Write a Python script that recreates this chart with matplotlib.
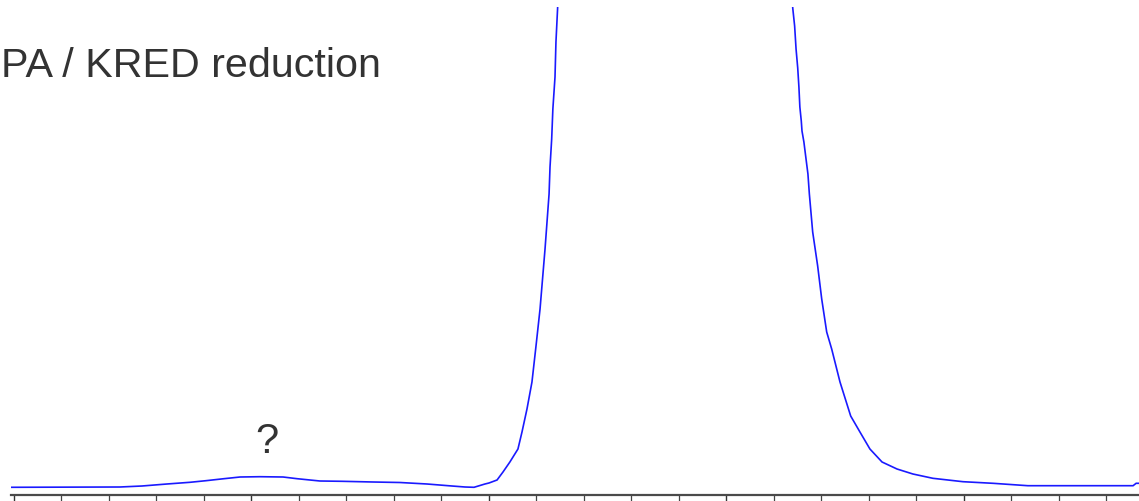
import matplotlib
matplotlib.use("Agg")
import matplotlib.pyplot as plt
from matplotlib.ticker import MultipleLocator

# Retention time (min) and detector signal (arbitrary units)
time_min = [-0.013, 0.446, 0.539, 0.644, 0.741, 0.808, 0.884, 0.952, 1.036, 1.133,
            1.192, 1.288, 1.381, 1.512, 1.625, 1.739, 1.844, 1.899, 1.937, 1.983,
            2.000, 2.034, 2.059, 2.088, 2.122, 2.139, 2.160, 2.181, 2.198, 2.215,
            2.236, 2.253, 2.257, 2.264, 2.269, 2.278, 2.282, 2.289, 2.299, 2.362,
            2.467, 2.783, 3.099, 3.204, 3.259, 3.267, 3.279, 3.287, 3.293, 3.300,
            3.305, 3.309, 3.315, 3.318, 3.326, 3.335, 3.343, 3.349, 3.363, 3.384,
            3.401, 3.422, 3.443, 3.478, 3.523, 3.562, 3.604, 3.655, 3.718, 3.785,
            3.869, 3.996, 4.122, 4.269, 4.712, 4.725, 4.737]
signal = [-0.3, 0.0, 1.0, 3.0, 4.7, 6.3, 8.3, 10.0, 10.3, 10.0,
          8.3, 6.0, 5.7, 5.0, 4.5, 3.0, 1.0, 0.0, -0.3, 3.0,
          4.0, 7.0, 15.0, 25.0, 38.0, 55.0, 78.0, 105.0, 141.0, 178.0,
          238.0, 293.0, 320.0, 348.0, 378.0, 410.0, 445.0, 479.0, 620.0, 1100.0,
          1600.0, 1900.0, 1600.0, 1100.0, 650.0, 560.0, 479.0, 461.0, 438.0, 419.0,
          400.0, 380.0, 366.0, 356.0, 345.0, 328.0, 313.0, 293.0, 255.0, 221.0,
          188.0, 155.0, 138.0, 105.0, 71.0, 55.0, 38.0, 25.0, 18.0, 13.0,
          8.7, 5.3, 3.7, 1.3, 1.3, 3.7, 3.7]

title_text = "PA / KRED reduction"
peak_label = "?"
peak_label_pos = (1.064, 35.0)

W, H = 1139, 502
fig = plt.figure(figsize=(W / 100, H / 100), dpi=100)
fig.patch.set_facecolor("white")
ax = fig.add_axes([11 / W, (H - 496) / H, (W - 11) / W, (496 - 8) / H])
ax.set_facecolor("white")

ax.plot(time_min, signal, color="#1a1aff", lw=1.2, solid_joinstyle="miter")

ax.set_xlim(-0.0126, 4.737)
ax.set_ylim(-8, 480)

for s in ["top", "right", "left"]:
    ax.spines[s].set_visible(False)
ax.spines["bottom"].set_color("#4a4a4a")
ax.spines["bottom"].set_linewidth(1.6)

ax.xaxis.set_major_locator(MultipleLocator(1.0))
ax.xaxis.set_minor_locator(MultipleLocator(0.2))
ax.tick_params(axis="x", which="major", direction="out", length=9, width=1.0,
               color="#333333", labelbottom=False)
ax.tick_params(axis="x", which="minor", direction="out", length=8, width=0.9,
               color="#444444")
ax.set_yticks([])

fig.text(1 / W, (H - 77) / H, title_text, fontsize=29.7, family="Liberation Sans",
         color="#333333", ha="left", va="baseline")
ax.text(peak_label_pos[0], peak_label_pos[1], peak_label, fontsize=30,
        family="Liberation Sans", color="#333333", ha="center", va="baseline")

fig.savefig("out.png", dpi=100, facecolor="white")
